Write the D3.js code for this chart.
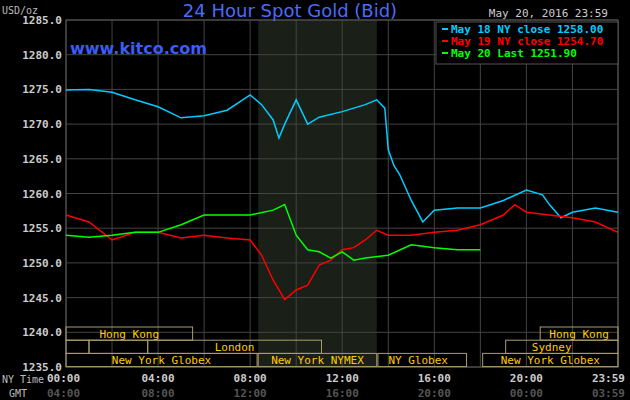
<!DOCTYPE html><html><head><script src="https://d3js.org/d3.v7.min.js"></script>
<style>body{margin:0;background:#000}</style></head><body><svg width="630" height="400"></svg><script>
const yTicks=[1235,1240,1245,1250,1255,1260,1265,1270,1275,1280,1285];
const xTickLabels=["00:00","04:00","08:00","12:00","16:00","20:00","23:59"];
const gmtLabels=["04:00","08:00","12:00","16:00","20:00","00:00","03:59"];
const may18=[[0,1274.9],[1,1275],[2,1274.6],[3,1273.5],[4,1272.5],[5,1270.9],[6,1271.2],[7,1272],[8,1274.2],[8.5,1272.8],[9,1270.6],[9.25,1268],[9.5,1270],[10,1273.5],[10.5,1270],[11,1271],[12,1271.8],[13,1272.8],[13.5,1273.5],[13.85,1272.3],[14,1266.3],[14.25,1264],[14.5,1262.7],[15,1259],[15.5,1255.9],[16,1257.6],[17,1257.9],[18,1257.9],[19,1259],[20,1260.5],[20.7,1259.8],[21,1258.4],[21.5,1256.5],[22,1257.3],[23,1257.9],[23.98,1257.3]];
const may19=[[0,1256.9],[1,1255.9],[2,1253.3],[3,1254.4],[4,1254.4],[5,1253.6],[6,1254],[7,1253.6],[8,1253.3],[8.5,1251.1],[9,1247.5],[9.5,1244.7],[10,1246.1],[10.5,1246.8],[11,1249.7],[11.5,1250.4],[12,1251.9],[12.5,1252.2],[13,1253.3],[13.5,1254.7],[14,1254],[15,1254],[16,1254.4],[17,1254.7],[18,1255.5],[19,1256.9],[19.5,1258.4],[20,1257.3],[21,1256.9],[22,1256.5],[23,1255.9],[23.98,1254.4]];
const may20=[[0,1254],[1,1253.7],[2,1254],[3,1254.4],[4,1254.4],[5,1255.5],[6,1256.9],[7,1256.9],[8,1256.9],[9,1257.6],[9.5,1258.4],[10,1254],[10.5,1251.9],[11,1251.6],[11.5,1250.7],[12,1251.6],[12.5,1250.4],[13,1250.7],[14,1251.1],[15,1252.6],[16,1252.2],[17,1251.9],[18,1251.9]];
const sessions=[
 {row:0,a:0,b:5.5,t:"Hong Kong"},{row:0,a:20.6,b:23.98,t:"Hong Kong"},
 {row:1,a:0,b:1,t:""},{row:1,a:1,b:3.55,t:""},{row:1,a:3.55,b:11.1,t:"London"},{row:1,a:19.1,b:23.98,t:"Sydney",tx:21.1},
 {row:2,a:0,b:8.3,t:"New York Globex"},{row:2,a:8.35,b:13.5,t:"New York NYMEX"},{row:2,a:13.55,b:17.4,t:"NY Globex",tx:15.3},{row:2,a:18.1,b:23.98,t:"New York Globex"}];
const svg=d3.select("svg");
const x=d3.scaleLinear().domain([0,23.98]).range([66,618]);
const y=d3.scaleLinear().domain([1235,1285]).range([367,20]);
const font="'DejaVu Sans Mono',monospace";
svg.append("rect").attr("x",x(8.35)).attr("y",20).attr("width",x(13.5)-x(8.35)).attr("height",347).attr("fill","#1a1f17");
for(let h=0;h<=24;h+=2){svg.append("line").attr("x1",x(Math.min(h,23.98))).attr("x2",x(Math.min(h,23.98))).attr("y1",20).attr("y2",367).attr("stroke","#444");}
yTicks.forEach(v=>svg.append("line").attr("x1",66).attr("x2",618).attr("y1",y(v)).attr("y2",y(v)).attr("stroke","#444"));
svg.append("rect").attr("x",66).attr("y",20).attr("width",552).attr("height",347).attr("fill","none").attr("stroke","#555");
const rh=13.2;
sessions.forEach(s=>{const top=327+s.row*rh;
 svg.append("rect").attr("x",x(s.a)).attr("y",top).attr("width",x(s.b)-x(s.a)).attr("height",rh).attr("fill","none").attr("stroke","#aa9e6a");
 if(s.t){const cx=s.tx!==undefined?x(s.tx):(x(s.a)+x(s.b))/2;
 svg.append("text").attr("x",cx).attr("y",top+10.5).attr("text-anchor","middle").attr("fill","#ffcc00").attr("font-family",font).attr("font-size",11).text(s.t);}});
yTicks.forEach(v=>svg.append("text").attr("x",62).attr("y",y(v)+4).attr("text-anchor","end").attr("fill","#ccc").attr("font-family",font).attr("font-weight","bold").attr("font-size",11).text(v.toFixed(1)));
const tx=[0,4,8,12,16,20,23.98];
tx.forEach((h,i)=>{const anc=i==0?"start":(i==6?"end":"middle");const xx=i==0?47:(i==6?625:x(h));
 svg.append("text").attr("x",xx).attr("y",382).attr("text-anchor",anc).attr("fill","#ccc").attr("font-family",font).attr("font-weight","bold").attr("font-size",11).text(xTickLabels[i]);
 svg.append("text").attr("x",xx).attr("y",397).attr("text-anchor",anc).attr("fill","#555").attr("font-family",font).attr("font-weight","bold").attr("font-size",11).text(gmtLabels[i]);});
svg.append("text").attr("x",2).attr("y",383).attr("fill","#bbb").attr("font-family",font).attr("font-size",10).text("NY Time");
svg.append("text").attr("x",9).attr("y",397).attr("fill","#bbb").attr("font-family",font).attr("font-size",10).text("GMT");
svg.append("text").attr("x",2).attr("y",14).attr("fill","#bbb").attr("font-family",font).attr("font-size",10).text("USD/oz");
svg.append("text").attr("x",290).attr("y",17).attr("text-anchor","middle").attr("fill","#4a6cf7").attr("font-family","'DejaVu Sans',sans-serif").attr("font-size",18).text("24 Hour Spot Gold (Bid)");
svg.append("text").attr("x",70).attr("y",54).attr("fill","#3b5cf5").attr("font-family","'DejaVu Sans',sans-serif").attr("font-weight","bold").attr("font-size",16).text("www.kitco.com");
svg.append("text").attr("x",608).attr("y",17).attr("text-anchor","end").attr("fill","#ccc").attr("font-family",font).attr("font-size",11).text("May 20, 2016 23:59");
const line=d3.line().x(d=>x(d[0])).y(d=>y(d[1]));
[[may18,"#00ccff"],[may19,"#ff0000"],[may20,"#00ff00"]].forEach(([d,c])=>svg.append("path").datum(d).attr("d",line).attr("fill","none").attr("stroke",c).attr("stroke-width",1.5));
svg.append("rect").attr("x",436).attr("y",22).attr("width",182).attr("height",42).attr("fill","#000").attr("stroke","#555");
[["May 18 NY close 1258.00","#00ccff"],["May 19 NY close 1254.70","#ff0000"],["May 20 Last 1251.90","#00ff00"]].forEach(([t,c],i)=>{
 svg.append("line").attr("x1",442).attr("x2",448).attr("y1",29+i*12).attr("y2",29+i*12).attr("stroke",c).attr("stroke-width",2);
 svg.append("text").attr("x",451).attr("y",33+i*12).attr("fill",c).attr("font-family",font).attr("font-weight","bold").attr("font-size",11).text(t);});
</script></body></html>
